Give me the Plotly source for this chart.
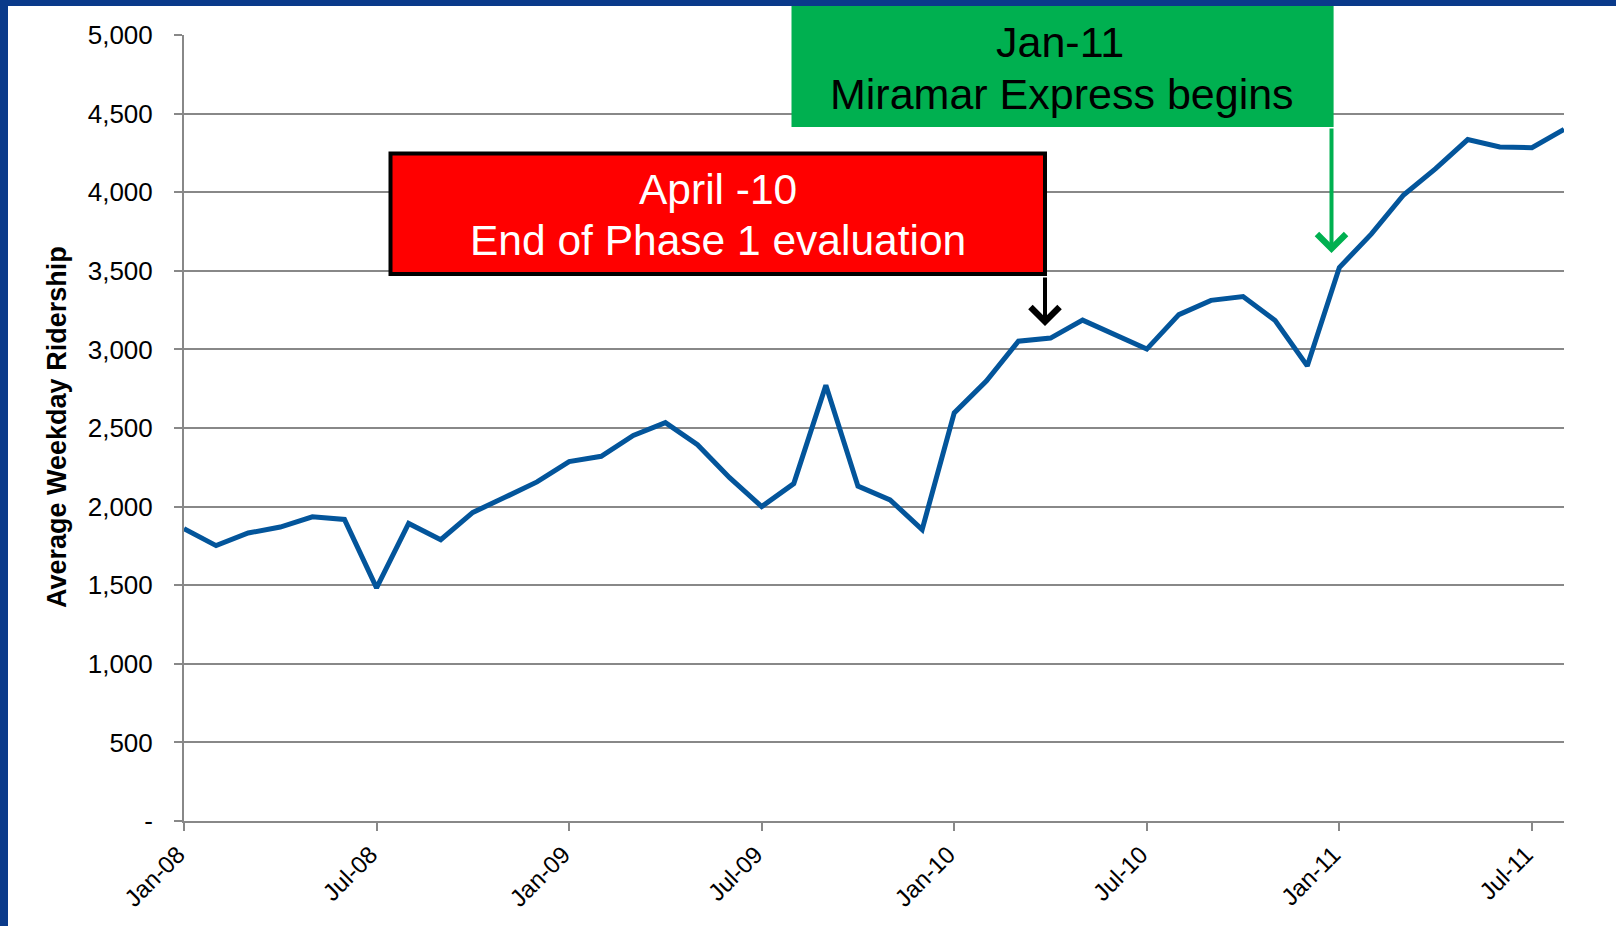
import pandas as pd
import plotly.graph_objects as go

# monthly average weekday ridership, Jan-08 .. Aug-11
months = list(pd.date_range("2008-01-01", "2011-08-01", freq="MS").strftime("%b-%y"))
ridership = [1860, 1752, 1832, 1870, 1935, 1918, 1483, 1893, 1789, 1963, 2059, 2157,
             2286, 2320, 2453, 2534, 2394, 2184, 2000, 2146, 2772, 2130, 2043, 1854,
             2596, 2798, 3052, 3072, 3186, 3094, 3002, 3221, 3312, 3336, 3184, 2895,
             3521, 3735, 3982, 4150, 4335, 4288, 4283, 4400]

x_ticks = ["Jan-08", "Jul-08", "Jan-09", "Jul-09", "Jan-10", "Jul-10", "Jan-11", "Jul-11"]
y_ticks = [0, 500, 1000, 1500, 2000, 2500, 3000, 3500, 4000, 4500, 5000]
y_ticktext = ["-"] + [f"{v:,}" for v in y_ticks[1:]]

W, H = 1616, 926
L, R, T, B = 184, 52, 35, 105
PW, PH = W - L - R, H - T - B


def fx(px):
    return (px - L) / PW


def fy(py):
    return (H - B - py) / PH


GRID = "#888888"
FONT = "Arial, Liberation Sans, sans-serif"
RED, GREEN, NAVY = "#FF0000", "#00B050", "#0A3A8A"

fig = go.Figure()
fig.add_trace(go.Scatter(
    x=months, y=ridership, mode="lines",
    line=dict(color="#03559B", width=5),
    showlegend=False,
))

fig.update_xaxes(
    type="category", range=[0, len(months) - 1],
    tickmode="array", tickvals=x_ticks, ticktext=x_ticks, tickangle=-45,
    tickfont=dict(family=FONT, size=24, color="black"),
    showgrid=False, showline=True, linecolor=GRID, linewidth=2,
    ticks="outside", ticklen=8, tickwidth=2, tickcolor=GRID,
    ticklabelshift=-6,
)
fig.update_yaxes(
    range=[0, 5000], tickmode="array", tickvals=y_ticks, ticktext=y_ticktext,
    tickfont=dict(family=FONT, size=26, color="black"),
    showgrid=True, gridcolor=GRID, gridwidth=2, zeroline=False,
    showline=True, linecolor=GRID, linewidth=2,
    ticks="outside", ticklen=8, tickwidth=2, tickcolor=GRID,
    ticklabelstandoff=16,
)


def label(x, y, text, size, color, **kw):
    return dict(x=fx(x), y=fy(y), xref="paper", yref="paper", showarrow=False,
                text=text, xanchor="center", yanchor="middle",
                font=dict(family=FONT, size=size, color=color), **kw)


annotations = [
    label(57, 427, "<b>Average Weekday Ridership</b>", 27, "black", textangle=-90),
    label(718, 189, "April -10", 42.5, "white"),
    label(718, 241, "End of Phase 1 evaluation", 42.5, "white"),
    label(1060, 42, "Jan-11", 43, "black"),
    label(1062, 94, "Miramar Express begins", 43, "black"),
    # arrows
    dict(x=fx(1045), y=fy(326), xref="paper", yref="paper", text="",
         showarrow=True, ax=0, ay=-50, arrowhead=4, arrowsize=1.4,
         arrowwidth=4, arrowcolor="black"),
    dict(x=fx(1331.5), y=fy(253), xref="paper", yref="paper", text="",
         showarrow=True, ax=0, ay=-126, arrowhead=4, arrowsize=1.4,
         arrowwidth=4, arrowcolor=GREEN),
]

shapes = [
    # annotation boxes
    dict(type="rect", xref="paper", yref="paper", x0=fx(390.5), x1=fx(1045), y0=fy(274), y1=fy(153.5),
         fillcolor=RED, line=dict(color="black", width=4), layer="above"),
    dict(type="rect", xref="paper", yref="paper", x0=fx(791.5), x1=fx(1333.6), y0=fy(127), y1=fy(6),
         fillcolor=GREEN, line=dict(width=0), layer="above"),
    # slide frame
    dict(type="rect", xref="paper", yref="paper", x0=fx(0), x1=fx(8), y0=fy(H), y1=fy(0),
         fillcolor=NAVY, line=dict(width=0), layer="above"),
    dict(type="rect", xref="paper", yref="paper", x0=fx(0), x1=fx(W), y0=fy(6), y1=fy(0),
         fillcolor=NAVY, line=dict(width=0), layer="above"),
]

fig.update_layout(
    width=W, height=H,
    margin=dict(l=L, r=R, t=T, b=B),
    paper_bgcolor="white", plot_bgcolor="white",
    annotations=annotations, shapes=shapes,
    font=dict(family=FONT),
)

fig.write_html("out.html", config={"displayModeBar": False},
               post_script="document.body.style.margin='0';")
